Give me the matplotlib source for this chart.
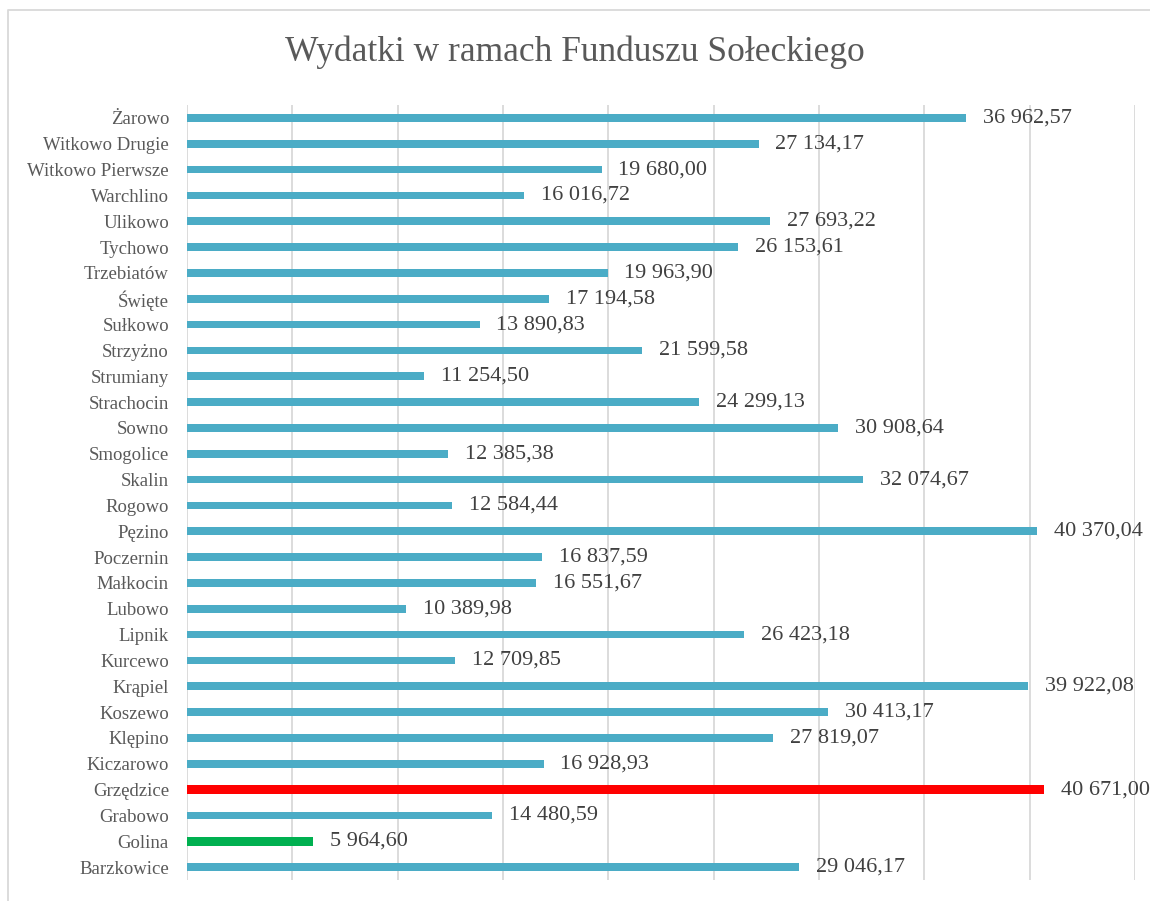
import matplotlib.pyplot as plt
from matplotlib.lines import Line2D

# Data (bottom to top as drawn)
villages = ['Barzkowice', 'Golina', 'Grabowo', 'Grzędzice', 'Kiczarowo', 'Klępino',
            'Koszewo', 'Krąpiel', 'Kurcewo', 'Lipnik', 'Lubowo', 'Małkocin',
            'Poczernin', 'Pęzino', 'Rogowo', 'Skalin', 'Smogolice', 'Sowno',
            'Strachocin', 'Strumiany', 'Strzyżno', 'Sułkowo', 'Święte', 'Trzebiatów',
            'Tychowo', 'Ulikowo', 'Warchlino', 'Witkowo Pierwsze', 'Witkowo Drugie',
            'Żarowo']
amounts = [29046.17, 5964.60, 14480.59, 40671.00, 16928.93, 27819.07,
           30413.17, 39922.08, 12709.85, 26423.18, 10389.98, 16551.67,
           16837.59, 40370.04, 12584.44, 32074.67, 12385.38, 30908.64,
           24299.13, 11254.50, 21599.58, 13890.83, 17194.58, 19963.90,
           26153.61, 27693.22, 16016.72, 19680.00, 27134.17, 36962.57]

highlight = {'Grzędzice': '#FF0000', 'Golina': '#00B050'}


def fmt(v):
    s = f'{v:,.2f}'
    return s.replace(',', ' ').replace('.', ',')


plt.rcParams['font.family'] = ['Liberation Serif', 'DejaVu Serif']

fig = plt.figure(figsize=(11.5, 9.01), dpi=100)
ax = fig.add_axes([187 / 1150, 1 - 880 / 901, (1135 - 187) / 1150, (880 - 105) / 901])

# outer frame: only the top and left edges fall inside the picture
fx, fy = 8 / 1150, 1 - 10 / 901
fig.lines.append(Line2D([fx, fx, 1.0], [0.0, fy, fy], transform=fig.transFigure,
                        color='#D9D9D9', linewidth=1.3))

for i, (name, val) in enumerate(zip(villages, amounts)):
    color = highlight.get(name, '#4BACC6')
    h = 0.36 if name in highlight else 0.3
    ax.barh(i, val, height=h, color=color, zorder=3)
    ax.text(val + 800, i, fmt(val), va='center', ha='left',
            fontsize=16, color='#404040', zorder=4)

ax.set_xlim(0, 45000)
ax.set_ylim(-0.5, len(villages) - 0.5)
ax.set_xticks(range(0, 45001, 5000))
ax.set_xticklabels([])
ax.tick_params(axis='x', length=0)
ax.set_yticks(range(len(villages)))
ax.set_yticklabels(villages, fontsize=13.5, color='#595959')
ax.tick_params(axis='y', length=0, pad=13)
ax.grid(axis='x', color='#D9D9D9', linewidth=1.3, zorder=0)
for s in ax.spines.values():
    s.set_visible(False)

fig.text(0.5, 1 - 52 / 901, 'Wydatki w ramach Funduszu Sołeckiego',
         ha='center', va='center', fontsize=25.5, color='#595959')

fig.savefig('out.png', dpi=100)
